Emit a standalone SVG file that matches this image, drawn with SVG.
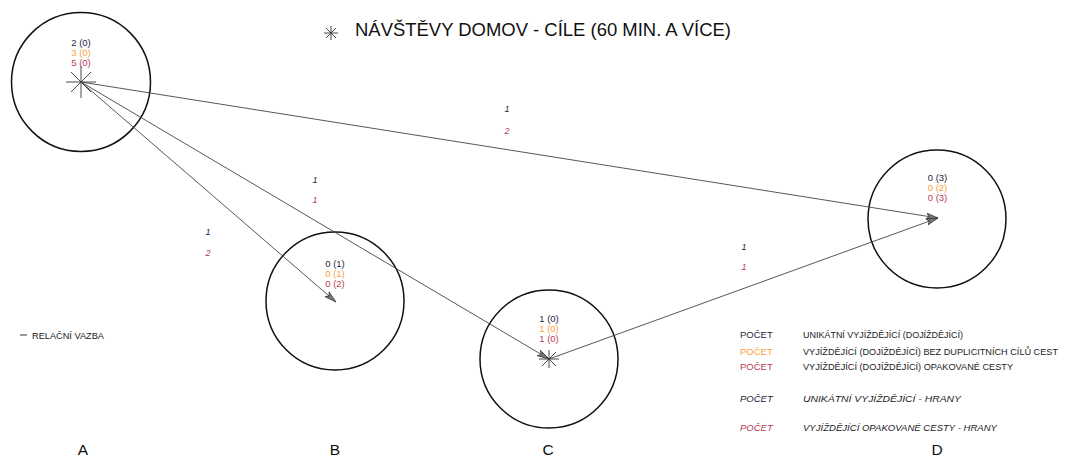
<svg xmlns="http://www.w3.org/2000/svg" width="1065" height="458" viewBox="0 0 1065 458">
<style>
text{font-family:"Liberation Sans",Arial,sans-serif}
.node{fill:none;stroke:#111;stroke-width:1.5}
.edge{fill:none;stroke:#444;stroke-width:0.9}
.star{stroke:#333;stroke-width:0.9}
.lbl{font-size:9.5px;text-anchor:middle}
.c1{fill:#26263a}
.c2{fill:#f7a23e}
.c3{fill:#b83c56}
.el{font-size:9px;font-style:italic;text-anchor:middle}
.lg{font-size:9.5px}
.ax{font-size:15.5px;text-anchor:middle;fill:#111}
</style>
<defs>
<marker id="arr" markerUnits="userSpaceOnUse" markerWidth="14" markerHeight="10" refX="12" refY="4" orient="auto">
<path d="M0,0.8 L12,4 L0,7.2 L3,4 Z" fill="#777" stroke="#333" stroke-width="0.7"/>
</marker>
</defs>
<rect width="1065" height="458" fill="#fff"/>

<g id="title">
<g class="star" stroke-width="1.1">
<line x1="324" y1="33" x2="338" y2="33"/>
<line x1="331" y1="26" x2="331" y2="40"/>
<line x1="326" y1="28" x2="336" y2="38"/>
<line x1="326" y1="38" x2="336" y2="28"/>
</g>
<text x="355" y="35.5" font-size="18" fill="#111" textLength="376" lengthAdjust="spacingAndGlyphs">NÁVŠTĚVY DOMOV - CÍLE (60 MIN. A VÍCE)</text>
</g>

<g id="nodeA">
<circle class="node" cx="81" cy="82" r="69.5"/>
<g class="star">
<line x1="66" y1="82" x2="96" y2="82"/>
<line x1="81" y1="66" x2="81" y2="98"/>
<line x1="71" y1="72" x2="91" y2="92"/>
<line x1="71" y1="92" x2="91" y2="72"/>
</g>
<text class="lbl c1" x="81" y="45.5">2 (0)</text>
<text class="lbl c2" x="81" y="55.5">3 (0)</text>
<text class="lbl c3" x="81" y="65.5">5 (0)</text>
</g>

<g id="nodeB">
<circle class="node" cx="335" cy="301" r="69"/>
<text class="lbl c1" x="335" y="266.5">0 (1)</text>
<text class="lbl c2" x="335" y="276.5">0 (1)</text>
<text class="lbl c3" x="335" y="286.5">0 (2)</text>
</g>

<g id="nodeC">
<circle class="node" cx="549" cy="359" r="69"/>
<g class="star">
<line x1="539" y1="359" x2="559" y2="359"/>
<line x1="549" y1="350" x2="549" y2="368"/>
<line x1="542" y1="352" x2="556" y2="366"/>
<line x1="542" y1="366" x2="556" y2="352"/>
</g>
<text class="lbl c1" x="549" y="321.5">1 (0)</text>
<text class="lbl c2" x="549" y="331.5">1 (0)</text>
<text class="lbl c3" x="549" y="341.5">1 (0)</text>
</g>

<g id="nodeD">
<circle class="node" cx="937" cy="219" r="69"/>
<text class="lbl c1" x="937.5" y="180.5">0 (3)</text>
<text class="lbl c2" x="937.5" y="190.5">0 (2)</text>
<text class="lbl c3" x="937.5" y="200.5">0 (3)</text>
</g>

<g id="connectors">
<line class="edge" x1="81" y1="82" x2="938" y2="218" marker-end="url(#arr)"/>
<line class="edge" x1="81" y1="82" x2="336" y2="302" marker-end="url(#arr)"/>
<line class="edge" x1="81" y1="82" x2="549" y2="359" marker-end="url(#arr)"/>
<line class="edge" x1="549" y1="359" x2="938" y2="218" marker-end="url(#arr)"/>
<text class="el c1" x="507" y="112.3">1</text>
<text class="el c3" x="507" y="134.3">2</text>
<text class="el c1" x="208" y="235.3">1</text>
<text class="el c3" x="208" y="256.3">2</text>
<text class="el c1" x="315" y="183.3">1</text>
<text class="el c3" x="315" y="203.3">1</text>
<text class="el c1" x="744" y="250.3">1</text>
<text class="el c3" x="744" y="270.3">1</text>
</g>

<g id="legend">
<line x1="20" y1="335" x2="27" y2="335" stroke="#333" stroke-width="1"/>
<text x="32" y="338.5" font-size="9" fill="#222" textLength="72" lengthAdjust="spacingAndGlyphs">RELAČNÍ VAZBA</text>
<text class="lg c1" x="740" y="338.3">POČET</text>
<text class="lg c2" x="740" y="355">POČET</text>
<text class="lg c3" x="740" y="370">POČET</text>
<text class="lg c1" x="740" y="402.3" font-style="italic">POČET</text>
<text class="lg c3" x="740" y="431" font-style="italic">POČET</text>
<text class="lg" fill="#222" x="803" y="338.3" textLength="160" lengthAdjust="spacingAndGlyphs">UNIKÁTNÍ VYJÍŽDĚJÍCÍ (DOJÍŽDĚJÍCÍ)</text>
<text class="lg" fill="#222" x="803" y="355" textLength="255" lengthAdjust="spacingAndGlyphs">VYJÍŽDĚJÍCÍ (DOJÍŽDĚJÍCÍ) BEZ DUPLICITNÍCH CÍLŮ CEST</text>
<text class="lg" fill="#222" x="803" y="370" textLength="210" lengthAdjust="spacingAndGlyphs">VYJÍŽDĚJÍCÍ (DOJÍŽDĚJÍCÍ) OPAKOVANÉ CESTY</text>
<text class="lg" fill="#222" x="803" y="402.3" font-style="italic" textLength="158" lengthAdjust="spacingAndGlyphs">UNIKÁTNÍ VYJÍŽDĚJÍCÍ  - HRANY</text>
<text class="lg" fill="#222" x="803" y="431" font-style="italic" textLength="194" lengthAdjust="spacingAndGlyphs">VYJÍŽDĚJÍCÍ OPAKOVANÉ CESTY - HRANY</text>
</g>

<g id="axis">
<text class="ax" x="83" y="454.5">A</text>
<text class="ax" x="335" y="454.5">B</text>
<text class="ax" x="548" y="454.5">C</text>
<text class="ax" x="937" y="454.5">D</text>
</g>
</svg>
